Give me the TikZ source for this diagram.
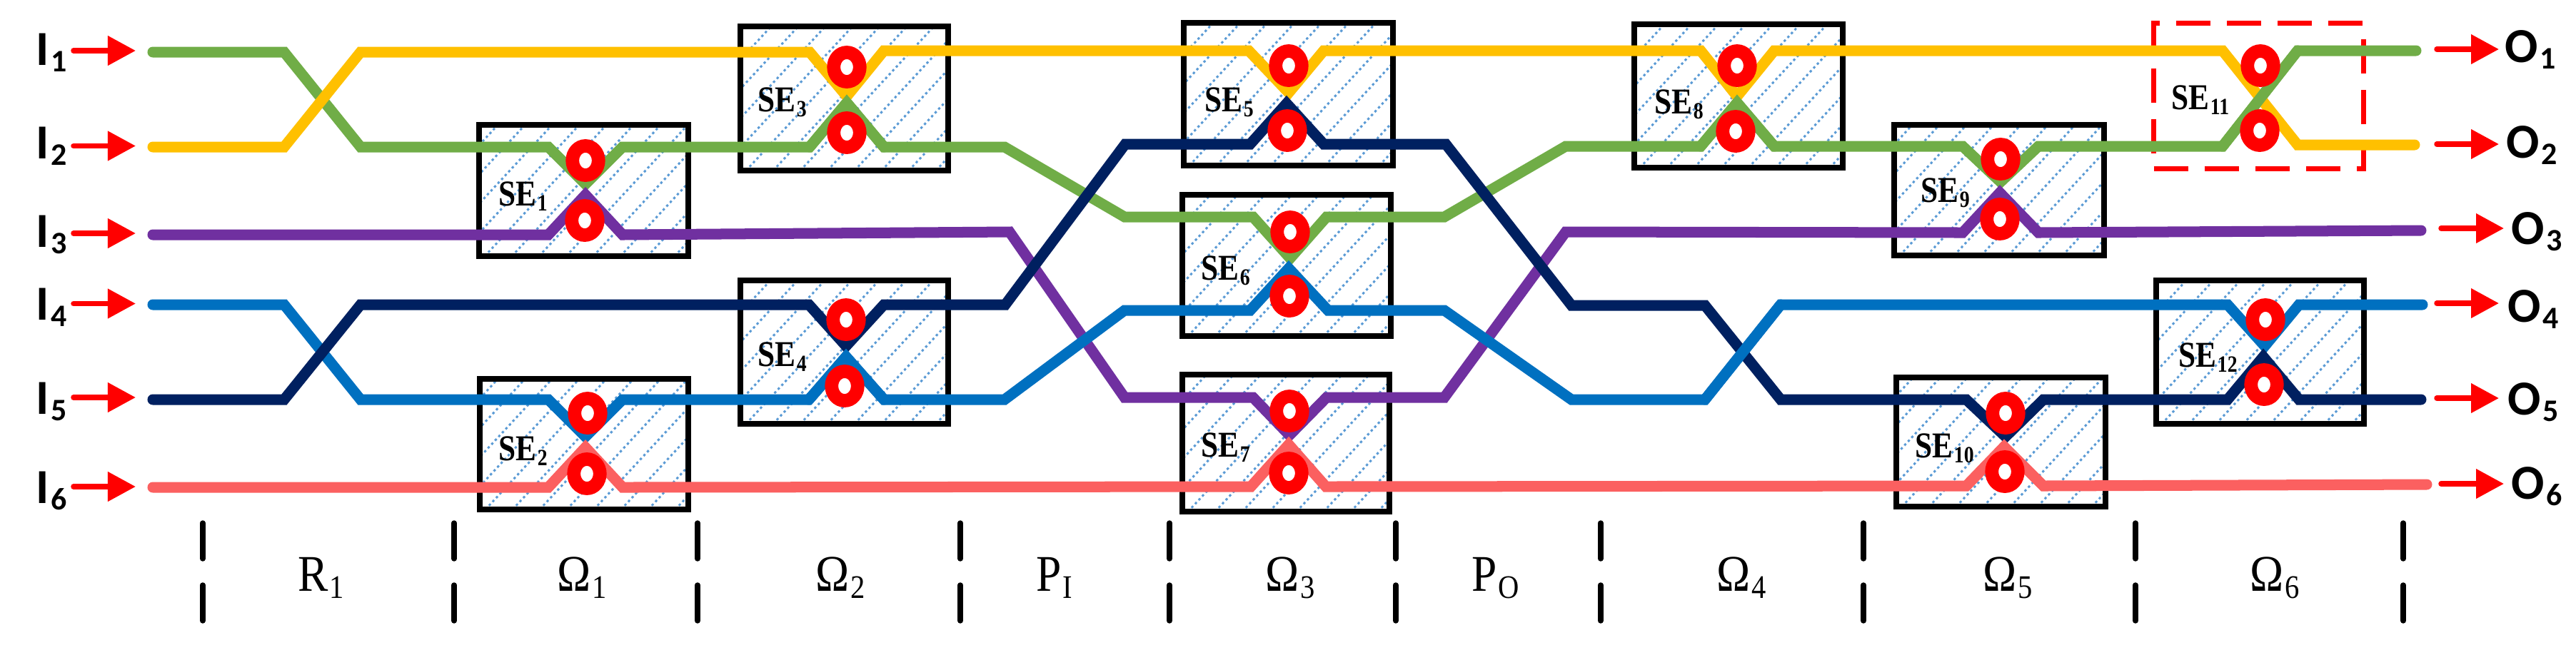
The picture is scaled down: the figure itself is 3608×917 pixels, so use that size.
\documentclass[tikz,border=0pt]{standalone}
\usepackage{fontspec}
\usetikzlibrary{arrows.meta,shapes.geometric}
\setmainfont{Liberation Serif}
\newfontfamily\ionfont{Carlito}
\newcommand{\idx}[1]{\kern .03em\raisebox{-.14em}{\scalebox{.64}{#1}}}
\definecolor{cgreen}{HTML}{70AD47}
\definecolor{cyellow}{HTML}{FFC000}
\definecolor{cpurple}{HTML}{7030A0}
\definecolor{cblue}{HTML}{0070C0}
\definecolor{cnavy}{HTML}{002060}
\definecolor{ccoral}{HTML}{FB6060}
\definecolor{chatch}{HTML}{5B9BD5}
\tikzset{
  guide/.style={line width=0.15cm,line cap=round,line join=miter},
  sebox/.style={draw=black,line width=0.08cm,fill=white,inner sep=0pt,outer sep=0pt,
    path picture={
      \foreach \d in {-220,-182,...,320}
        \draw[chatch,line width=0.03cm,dash pattern=on 0.033cm off 0.04cm]
          ([xshift=\d*0.01cm]path picture bounding box.south west) -- ++(250,-270);
    }},
  redbox/.style={draw=red,line width=0.07cm,inner sep=0pt,outer sep=0pt,dash pattern=on 0.48cm off 0.23cm},
  ring/.style={ellipse,draw=red,fill=white,line width=0.1875cm,minimum width=0.365cm,minimum height=0.41cm,inner sep=0pt,outer sep=0pt},
  selabel/.style={anchor=base west,inner sep=0pt,font=\fontsize{14.5}{16}\selectfont\bfseries,xscale=0.85,transform shape},
  stagelabel/.style={anchor=base west,inner sep=0pt,font=\fontsize{20.5}{22}\selectfont,xscale=0.88,transform shape},
  ionlabel/.style={anchor=base west,inner sep=0pt,font=\fontsize{19.5}{22}\selectfont\ionfont\bfseries},
  sigarrow/.style={red,line width=0.075cm,line cap=round,-{Triangle[length=0.39cm,width=0.40cm]}},
  tickline/.style={black,line width=0.075cm,line cap=round}
}
\begin{document}
\begin{tikzpicture}[x=0.01cm,y=-0.01cm]
    \useasboundingbox (0,0) rectangle (3608,917);
    % switching elements
    \node[sebox,minimum width=2.93cm,minimum height=1.84cm] (SE1) at (817.5,267) {};
    \node[sebox,minimum width=2.92cm,minimum height=1.83cm] (SE2) at (818,622.5) {};
    \node[sebox,minimum width=2.91cm,minimum height=2.02cm] (SE3) at (1182.5,138) {};
    \node[sebox,minimum width=2.91cm,minimum height=2.01cm] (SE4) at (1182.5,493.5) {};
    \node[sebox,minimum width=2.93cm,minimum height=2.00cm] (SE5) at (1804.5,132) {};
    \node[sebox,minimum width=2.92cm,minimum height=1.98cm] (SE6) at (1802,372) {};
    \node[sebox,minimum width=2.90cm,minimum height=1.92cm] (SE7) at (1801,621) {};
    \node[sebox,minimum width=2.92cm,minimum height=2.01cm] (SE8) at (2435,134.5) {};
    \node[sebox,minimum width=2.94cm,minimum height=1.83cm] (SE9) at (2800,266.5) {};
    \node[sebox,minimum width=2.93cm,minimum height=1.81cm] (SE10) at (2802.5,619.5) {};
    \node[redbox,minimum width=2.93cm,minimum height=2.03cm] (SE11) at (3163.5,134.5) {};
    \node[sebox,minimum width=2.91cm,minimum height=2.01cm] (SE12) at (3165.5,493.5) {};
    % waveguides
    \draw[guide,cgreen] (214,73)--(398,73)--(505,206)--(768,206)--(820,258)--(872,206)--(1134,206)--(1186,144)--(1238,206)--(1407,206)--(1575,304)--(1755,304)--(1807,362)--(1858,304)--(2023,304)--(2193,205)--(2382,205)--(2433,144)--(2485,205)--(2749,205)--(2802,255)--(2855,205)--(3113,205)--(3218,71)--(3384,71);
    \draw[guide,cyellow] (214,206)--(398,206)--(505,73)--(1134,73)--(1186,135)--(1238,71)--(1749,71)--(1805,130)--(1854,71)--(2382,71)--(2433,135)--(2485,71)--(3113,71)--(3218,203)--(3382,203);
    \draw[guide,cpurple] (214,329)--(768,329)--(820,273)--(872,329)--(1414,325)--(1575,557)--(1755,557)--(1806,610)--(1858,557)--(2023,557)--(2193,325)--(2749,326)--(2801,270)--(2855,326)--(3391,323);
    \draw[guide,cblue] (214,427)--(398,427)--(505,560)--(768,560)--(820,612)--(872,560)--(1133,560)--(1185,500)--(1238,560)--(1407,560)--(1575,435)--(1751,435)--(1805,376)--(1860,435)--(2023,435)--(2201,560)--(2388,560)--(2494,427)--(3120,427)--(3172,485)--(3220,427)--(3393,427);
    \draw[guide,cnavy] (214,560)--(398,560)--(505,427)--(1133,427)--(1185,485)--(1238,427)--(1408,427)--(1576,202)--(1751,202)--(1802,145)--(1854,202)--(2025,202)--(2201,428)--(2388,428)--(2494,560)--(2754,560)--(2809,612)--(2862,560)--(3120,560)--(3170,500)--(3220,560)--(3391,560);
    \draw[guide,ccoral] (214,683)--(768,683)--(820,627)--(872,683)--(1752,682)--(1805,623)--(1857,682)--(2754,681)--(2807,626)--(2862,681)--(3399,679);
    % lines that pass over the ones drawn later
    \draw[guide,cgreen] (1134,206)--(1186,144)--(1238,206);
    \draw[guide,cgreen] (2382,205)--(2433,144)--(2485,205);
    \draw[guide,cgreen] (3113,205)--(3218,71);
    \draw[guide,cblue] (1133,560)--(1185,500)--(1238,560);
    \draw[guide,cblue] (2388,560)--(2494,427);
    % rings
    \node[ring] (R1a) at (820,225) {};   \node[ring] (R1b) at (819,309) {};
    \node[ring] (R2a) at (823,579) {};   \node[ring] (R2b) at (822,664) {};
    \node[ring] (R3a) at (1186,94) {};   \node[ring] (R3b) at (1186,186) {};
    \node[ring] (R4a) at (1185,448) {};  \node[ring] (R4b) at (1183,541) {};
    \node[ring] (R5a) at (1805,92) {};   \node[ring] (R5b) at (1803,183) {};
    \node[ring] (R6a) at (1807,325) {};  \node[ring] (R6b) at (1806,415) {};
    \node[ring] (R7a) at (1806,576) {};  \node[ring] (R7b) at (1805,663) {};
    \node[ring] (R8a) at (2433,92) {};   \node[ring] (R8b) at (2431,184) {};
    \node[ring] (R9a) at (2802,223) {};  \node[ring] (R9b) at (2801,307) {};
    \node[ring] (R10a) at (2809,579) {}; \node[ring] (R10b) at (2808,661) {};
    \node[ring] (R11a) at (3166,92) {};  \node[ring] (R11b) at (3165,183) {};
    \node[ring] (R12a) at (3173,448) {}; \node[ring] (R12b) at (3171,539) {};
    % element names
    \node[selabel] (L1) at (698,288) {SE\idx{1}};
    \node[selabel] (L2) at (698,645) {SE\idx{2}};
    \node[selabel] (L3) at (1061,156) {SE\idx{3}};
    \node[selabel] (L4) at (1061,513) {SE\idx{4}};
    \node[selabel] (L5) at (1687,156) {SE\idx{5}};
    \node[selabel] (L6) at (1682,392) {SE\idx{6}};
    \node[selabel] (L7) at (1682,640) {SE\idx{7}};
    \node[selabel] (L8) at (2317,159) {SE\idx{8}};
    \node[selabel] (L9) at (2690,283) {SE\idx{9}};
    \node[selabel] (L10) at (2682,641) {SE\idx{10}};
    \node[selabel] (L11) at (3041,153) {SE\idx{11}};
    \node[selabel] (L12) at (3051,514) {SE\idx{12}};
    % inputs
    \node[ionlabel] (I1) at (50,91) {I\idx{1}};
    \node[ionlabel] (I2) at (50,222) {I\idx{2}};
    \node[ionlabel] (I3) at (50,346) {I\idx{3}};
    \node[ionlabel] (I4) at (50,448) {I\idx{4}};
    \node[ionlabel] (I5) at (50,580) {I\idx{5}};
    \node[ionlabel] (I6) at (50,705) {I\idx{6}};
    \foreach \i/\y in {1/71,2/204.5,3/327,4/425.5,5/557,6/682} {
      \coordinate (ia\i) at (103,\y);
      \coordinate (ib\i) at (190,\y);
      \draw[sigarrow] (ia\i)--(ib\i);
    }
    % outputs
    \node[ionlabel] (O1) at (3508,87) {O\idx{1}};
    \node[ionlabel] (O2) at (3510,221) {O\idx{2}};
    \node[ionlabel] (O3) at (3517,342) {O\idx{3}};
    \node[ionlabel] (O4) at (3512,451) {O\idx{4}};
    \node[ionlabel] (O5) at (3512,581) {O\idx{5}};
    \node[ionlabel] (O6) at (3517,699) {O\idx{6}};
    \foreach \i/\xa/\xb/\y in {1/3413/3500/69,2/3413/3500/202,3/3419/3507/320,4/3413/3500/425,5/3413/3500/558,6/3419/3507/678} {
      \coordinate (oa\i) at (\xa,\y);
      \coordinate (ob\i) at (\xb,\y);
      \draw[sigarrow] (oa\i)--(ob\i);
    }
    % stage separators
    \draw[tickline] (284,733)--(284,783) (284,820)--(284,870);
    \draw[tickline] (636,733)--(636,783) (636,820)--(636,870);
    \draw[tickline] (977,733)--(977,783) (977,820)--(977,870);
    \draw[tickline] (1345,733)--(1345,783) (1345,820)--(1345,870);
    \draw[tickline] (1638,733)--(1638,783) (1638,820)--(1638,870);
    \draw[tickline] (1955,733)--(1955,783) (1955,820)--(1955,870);
    \draw[tickline] (2242,733)--(2242,783) (2242,820)--(2242,870);
    \draw[tickline] (2610,733)--(2610,783) (2610,820)--(2610,870);
    \draw[tickline] (2991,733)--(2991,783) (2991,820)--(2991,870);
    \draw[tickline] (3366,733)--(3366,783) (3366,820)--(3366,870);
    % stage names
    \node[stagelabel] (R1) at (417,828) {R\idx{1}};
    \node[stagelabel] (W1) at (780,828) {Ω\idx{1}};
    \node[stagelabel] (W2) at (1142,828) {Ω\idx{2}};
    \node[stagelabel] (PI) at (1451,828) {P\idx{I}};
    \node[stagelabel] (W3) at (1772,828) {Ω\idx{3}};
    \node[stagelabel] (PO) at (2061,828) {P\idx{O}};
    \node[stagelabel] (W4) at (2404,828) {Ω\idx{4}};
    \node[stagelabel] (W5) at (2777,828) {Ω\idx{5}};
    \node[stagelabel] (W6) at (3151,828) {Ω\idx{6}};
\end{tikzpicture}
\end{document}
